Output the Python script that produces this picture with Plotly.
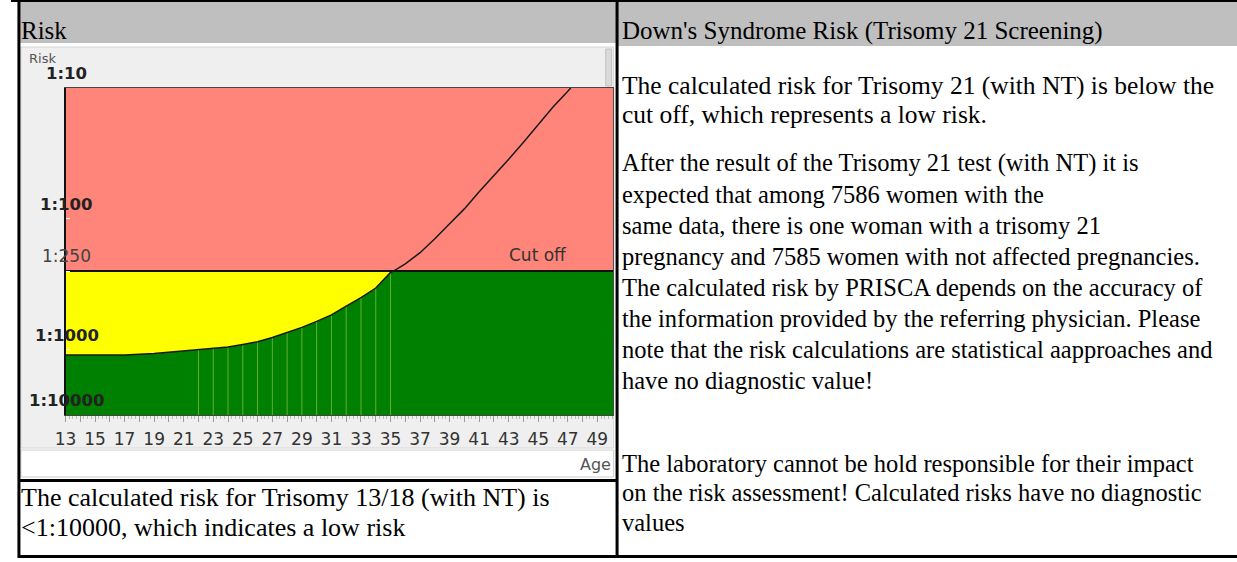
import numpy as np
import plotly.graph_objects as go

W, H = 1237, 562

# ---------------- data ----------------
ages = [13, 15, 17, 19, 21, 22, 23, 24, 25, 26, 27, 28, 29, 30, 31, 32, 33, 34, 35, 35.2,
        36, 37, 38, 39, 40, 41, 42, 43, 44, 45, 46, 47, 47.2]
age_risk = [1210, 1210, 1205, 1150, 1055, 1007, 980, 957, 912, 871, 807, 741, 675, 608, 542,
            464, 400, 337, 256, 250, 220, 181, 142, 109, 84, 62, 47, 35, 26, 19, 14, 10.6, 10]
cutoff_risk = 250
patient_age = 30.7
patient_risk = 3200
grid_ages = list(range(22, 36))

risk_ticks = [10, 100, 250, 1000, 10000]
risk_tick_text = ["1:10", "1:100", "1:250", "1:1000", "1:10000"]
risk_tick_pos = [100, 60, 44, 20, 0]          # position of each tick on the chart's risk scale
age_ticks = list(range(13, 50))
age_tick_text = [str(a) if a % 2 else "" for a in age_ticks]

header_left = "Risk"
header_right = "Down's Syndrome Risk (Trisomy 21 Screening)"
summary_lines = ["The calculated risk for Trisomy 21 (with NT) is below the",
                 "cut off, which represents a low risk."]
body_lines = ["After the result of the Trisomy 21 test (with NT) it is",
              "expected that among 7586 women with the",
              "same data, there is one woman with a trisomy 21",
              "pregnancy and 7585 women with not affected pregnancies.",
              "The calculated risk by PRISCA depends on the accuracy of",
              "the information provided by the referring physician. Please",
              "note that the risk calculations are statistical aapproaches and",
              "have no diagnostic value!"]
lab_lines = ["The laboratory cannot be hold responsible for their impact",
             "on the risk assessment! Calculated risks have no diagnostic",
             "values"]
t1318_lines = ["The calculated risk for Trisomy 13/18 (with NT) is",
               "<1:10000, which indicates a low risk"]

# ---------------- styles ----------------
RED = "#ff8479"
YELLOW = "#ffff00"
GREEN = "#008000"
GRIDGREEN = "#62b02c"
HEADER_GRAY = "#bfbfbf"
PANEL_GRAY = "#efefef"
SERIF = "Liberation Serif"
SANS = "DejaVu Sans"


def risk_to_pos(r):
    lr = np.log10(np.asarray(r, dtype=float))
    return np.interp(lr, np.log10(risk_ticks), risk_tick_pos)


def px(x):
    return x / W


def py(y):
    return 1 - y / H


curve = risk_to_pos(age_risk)
cut = float(risk_to_pos(cutoff_risk))
top = float(risk_to_pos(risk_ticks[0]))
X0, X1 = 13, 50.1
low = np.minimum(curve, cut)
x_ext = list(ages) + [X1]
low_ext = list(low) + [cut]

fig = go.Figure()
# red area above the cutoff
fig.add_trace(go.Scatter(x=[X0, X1], y=[top, top], mode="lines", line=dict(width=0),
                         hoverinfo="skip"))
fig.add_trace(go.Scatter(x=[X0, X1], y=[cut, cut], mode="lines", line=dict(width=0),
                         fill="tonexty", fillcolor=RED, hoverinfo="skip"))
# green area below min(curve, cutoff)
fig.add_trace(go.Scatter(x=x_ext, y=low_ext, mode="lines", line=dict(width=0),
                         fill="tozeroy", fillcolor=GREEN, hoverinfo="skip"))
# yellow area between curve and cutoff
fig.add_trace(go.Scatter(x=x_ext, y=[cut] * len(x_ext), mode="lines", line=dict(width=0),
                         hoverinfo="skip"))
fig.add_trace(go.Scatter(x=x_ext, y=low_ext, mode="lines", line=dict(width=0),
                         fill="tonexty", fillcolor=YELLOW, hoverinfo="skip"))
# light vertical grid lines inside the green area
gx, gy = [], []
for a in grid_ages:
    ytop = low[ages.index(a)]
    gx += [a, a, None]
    gy += [0, ytop, None]
fig.add_trace(go.Scatter(x=gx, y=gy, mode="lines", line=dict(color=GRIDGREEN, width=1),
                         hoverinfo="skip"))
# patient bar
fig.add_trace(go.Bar(x=[patient_age], y=[float(risk_to_pos(patient_risk))], width=0.87,
                     marker=dict(color="black", line=dict(width=0))))
# cutoff line
fig.add_trace(go.Scatter(x=[X0, X1], y=[cut, cut], mode="lines",
                         line=dict(color="#111111", width=2)))
# age risk curve
fig.add_trace(go.Scatter(x=ages, y=curve, mode="lines",
                         line=dict(color="#1a1a1a", width=1.5)))

shapes = []


def rect(x0, y0, x1, y1, fill, line=None, lw=0, layer="below"):
    shapes.append(dict(type="rect", xref="paper", yref="paper",
                       x0=px(x0), x1=px(x1), y0=py(y1), y1=py(y0),
                       fillcolor=fill, line=dict(color=line or fill, width=lw), layer=layer))


def hline(x0, x1, y, w=3, color="black"):
    shapes.append(dict(type="line", xref="paper", yref="paper", x0=px(x0), x1=px(x1),
                       y0=py(y), y1=py(y), line=dict(color=color, width=w), layer="above"))


def vline(x, y0, y1, w=3, color="black"):
    shapes.append(dict(type="line", xref="paper", yref="paper", x0=px(x), x1=px(x),
                       y0=py(y0), y1=py(y1), line=dict(color=color, width=w), layer="above"))


rect(8, 1, 611, 43, HEADER_GRAY)
rect(611, 1, W, 46, HEADER_GRAY)
rect(10, 47, 608, 448, PANEL_GRAY, line="#d6d6d6", lw=1)
rect(600, 49, 606, 86, "#dadada", line="#c4c4c4", lw=1)
rect(10, 450, 608, 477, "white", line="#cfcfcf", lw=1)
hline(0, W, 1, w=2)
vline(8, 0, 558)
vline(611.5, 0, 558)
hline(8, 611.5, 480.5)
hline(8, W, 556.5)
# thin right border of the plot
vline(608, 88, 415, w=1, color="#444444")

ann = []
for r, t, p in zip(risk_ticks, risk_tick_text, risk_tick_pos):
    bold = r != 250
    ann.append(dict(xref="paper", yref="y", x=px(56), y=p, xanchor="center", yanchor="bottom",
                    text=f"<b>{t}</b>" if bold else t, showarrow=False, yshift=3,
                    font=dict(family=SANS, size=16.5 if bold else 17,
                              color="#222222" if bold else "#444444")))
ann.append(dict(xref="paper", yref="paper", x=px(16), y=py(58), xanchor="left", yanchor="middle",
                text="Risk", showarrow=False, font=dict(family=SANS, size=13, color="#555555")))
ann.append(dict(xref="paper", yref="y", x=px(532), y=cut, xanchor="center", yanchor="bottom",
                text="Cut off", showarrow=False, yshift=4,
                font=dict(family=SANS, size=17, color="#333333")))
ann.append(dict(xref="paper", yref="paper", x=px(607), y=py(465), xanchor="right", yanchor="middle",
                text="Age", showarrow=False, font=dict(family=SANS, size=16, color="#555555")))


def text_line(x, y, s, size):
    ann.append(dict(xref="paper", yref="paper", x=px(x), y=py(y), xanchor="left",
                    yanchor="middle", text=s.replace("<", "&lt;"), showarrow=False,
                    font=dict(family=SERIF, size=size, color="black")))


text_line(8, 31, header_left, 25)
text_line(614, 31, header_right, 25)
for i, s in enumerate(summary_lines):
    text_line(614, 85 + 29 * i, s, 25.5)
for i, s in enumerate(body_lines):
    text_line(614, 163 + 31.1 * i, s, 24.5)
for i, s in enumerate(lab_lines):
    text_line(614, 463 + 29.5 * i, s, 24.5)
for i, s in enumerate(t1318_lines):
    text_line(8, 497 + 30 * i, s, 26)

fig.update_layout(
    width=W, height=H, margin=dict(l=0, r=0, t=0, b=0),
    paper_bgcolor="white", plot_bgcolor="rgba(0,0,0,0)", showlegend=False,
    shapes=shapes, annotations=ann, bargap=0,
    xaxis=dict(domain=[px(55), px(608)], range=[X0, X1], tickmode="array",
               tickvals=age_ticks, ticktext=age_tick_text, ticks="outside", ticklen=6,
               tickcolor="#9a9a9a", showline=True, linecolor="#444444", linewidth=1, mirror=True,
               showgrid=False, zeroline=False, ticklabelstandoff=3,
               tickfont=dict(family=SANS, size=17, color="#333333"),
               minor=dict(dtick=0.25, tick0=13, ticks="outside", ticklen=3, tickcolor="#bbbbbb")),
    yaxis=dict(domain=[py(415), py(88)], range=[0, 100], tickmode="array",
               tickvals=risk_tick_pos, ticks="inside", ticklen=4, tickcolor="white",
               showticklabels=False, showline=True, linecolor="#111111", linewidth=2,
               mirror=False, showgrid=False, zeroline=False),
)
page_css = ("document.documentElement.style.margin='0';document.documentElement.style.padding='0';"
            "document.documentElement.style.overflow='hidden';"
            "document.body.style.margin='0';document.body.style.padding='0';"
            "document.body.style.overflow='hidden';")
fig.write_html("out.html", config={"displayModeBar": False, "responsive": False},
               post_script=page_css)
